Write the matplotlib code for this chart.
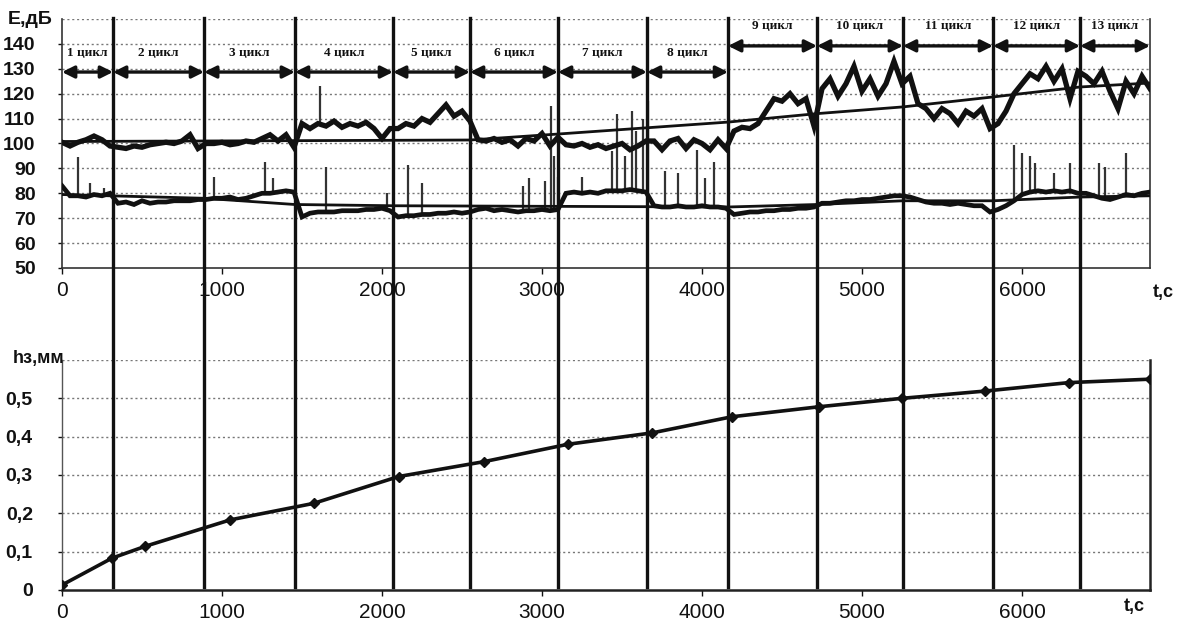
import numpy as np
import matplotlib
matplotlib.use("Agg")
import matplotlib.pyplot as plt
from matplotlib.lines import Line2D
from matplotlib import transforms

# ---------------- data ----------------
T_STEP = 50  # s, sampling of the acoustic traces (t = 0 ... 6800)

# upper acoustic emission trace, dB
e_upper = [
    100.5, 99, 100.5, 101.5, 103, 101.5, 99,
    98.5, 98, 99, 98.5, 99.5, 100, 100.5, 100, 101, 103.5, 98, 100,
    100, 100.5, 99.5, 100, 101, 100.5, 102, 103.5, 101, 103.5, 98.5,
    108, 106, 108, 107, 109, 106.5, 108, 107, 108.5, 106, 102, 106,
    106, 108, 107, 110, 108.5, 112, 115.5, 111, 113, 109,
    101.5, 101, 102, 100.5, 101.5, 99, 102, 101, 104, 99, 102.5,
    99.5, 99, 100, 98.5, 99.5, 98, 99, 100, 97.5, 99, 101,
    101, 97.5, 101, 102, 98, 101.5, 100, 97.5, 101.5, 98,
    105, 106.5, 106, 108, 113, 118, 117, 120, 116, 118, 107,
    122, 126, 119, 124, 131, 121, 126, 119, 124, 133, 124,
    127, 116, 114, 110, 114, 112, 108, 113, 111, 114, 106,
    108, 113, 120, 124, 128, 126, 131, 125, 130, 118, 129,
    127, 124, 129, 121, 114, 125, 120, 127, 122,
]

# lower acoustic emission trace, dB
e_lower = [
    83, 79, 79, 78.5, 79.5, 79, 80,
    76, 76.5, 75.5, 77, 76, 76.5, 76.5, 77, 77, 77, 77.5, 77.5,
    78, 78, 78.5, 77.5, 78, 79, 80, 80, 80.5, 81, 80.5,
    70.5, 72, 72.5, 72.5, 72.5, 73, 73, 73, 73.5, 73.5, 74, 73,
    70.5, 71, 71, 71.5, 71.5, 72, 72, 72.5, 72, 72.5,
    73.5, 74, 73, 73.5, 73, 72.5, 73, 73, 73.5, 73, 73.5,
    80, 80.5, 80, 80.5, 80, 81, 81, 81, 81.5, 81, 80.5,
    75, 74.5, 74.5, 75, 74.5, 74.5, 75, 74.5, 74.5, 74,
    71.5, 72, 72.5, 72.5, 73, 73, 73.5, 73.5, 74, 74, 74.5,
    76, 76, 76.5, 77, 77, 77.5, 77.5, 78, 78.5, 79, 79,
    78.5, 77.5, 76.5, 76, 76, 75.5, 76, 75.5, 75, 75, 72.5,
    73.5, 75, 77, 79.5, 80.5, 81, 80.5, 81, 80.5, 81, 80,
    80, 79, 78, 77.5, 78.5, 79.5, 79, 80, 80.5,
]

# isolated peaks on the lower trace: time, s / peak level, dB
spike_t = [100, 175, 260, 950, 1270, 1320, 1650, 2030, 2160, 2250, 2880, 2920,
           3020, 3055, 3075, 3100, 3250, 3440, 3470, 3520, 3560, 3590, 3630,
           3660, 3770, 3850, 3970, 4020, 4075, 5950, 6000, 6050, 6080, 6200,
           6300, 6480, 6520, 6650]
spike_v = [94.5, 84, 82, 86.5, 92.5, 86, 90.5, 80, 91.5, 84, 83, 86,
           85, 115, 95, 86.5, 86.5, 97, 112, 95, 113, 105, 110,
           117, 89, 88, 97.5, 86, 92.5, 99.5, 96, 95, 92, 88,
           92, 92, 90.5, 96]
# peak on the upper trace
spike_up_t = [1610]
spike_up_v = [123]

# trend lines, dB
trend_hi_t = [0, 2550, 3100, 4163, 4719, 5256, 5819, 6363, 6800]
trend_hi_v = [100.8, 101.4, 103.8, 108.6, 112, 114.7, 118.7, 122.7, 124.3]
trend_lo_t = [0, 888, 1456, 2069, 4163, 4719, 5256, 5819, 6363, 6800]
trend_lo_v = [79.5, 78, 75.5, 75, 74.5, 75.5, 77, 77, 78.5, 79]

# cycle boundaries, s
cycle_edges = [0, 319, 888, 1456, 2069, 2550, 3100, 3656, 4163, 4719, 5256,
               5819, 6363, 6800]
cycle_labels = [f"{i} цикл" for i in range(1, 14)]

# flank wear, mm
wear_t = [0, 312, 520, 1052, 1573, 2104, 2640, 3160, 3690, 4188, 4731, 5250,
          5770, 6292, 6800]
wear_h = [0.013, 0.083, 0.114, 0.183, 0.226, 0.296, 0.335, 0.38, 0.41, 0.452,
          0.478, 0.50, 0.519, 0.541, 0.55]

x_ticks = [0, 1000, 2000, 3000, 4000, 5000, 6000]
e_ticks = [50, 60, 70, 80, 90, 100, 110, 120, 130, 140]
h_ticks = [0, 0.1, 0.2, 0.3, 0.4, 0.5]
h_tick_labels = ["0", "0,1", "0,2", "0,3", "0,4", "0,5"]

# ---------------- figure ----------------
W, H = 1178, 640
fig = plt.figure(figsize=(W / 100, H / 100), dpi=100)
plt.rcParams['font.family'] = ['Liberation Sans', 'DejaVu Sans']

def fx(px):
    return px / W

def fy(py):
    return 1 - py / H

XL, XR = 62, 1150
ax1 = fig.add_axes([fx(XL), fy(268), fx(XR - XL), fy(19) - fy(268)])
ax2 = fig.add_axes([fx(XL), fy(590), fx(XR - XL), fy(360) - fy(590)])

t = np.arange(len(e_upper)) * T_STEP
INK = "#111111"

# --- top chart ---
ax1.set_xlim(0, 6800)
ax1.set_ylim(50, 150)
for v in list(e_ticks) + [150]:
    if v == 50:
        continue
    ax1.axhline(v, color="#777777", lw=1.0, ls=(0, (1.5, 2)), zorder=0)
ax1.plot(t, e_upper, color=INK, lw=3.8, solid_joinstyle="miter", zorder=3)
ax1.plot(t, e_lower, color=INK, lw=3.4, solid_joinstyle="miter", zorder=3)
base = np.interp(spike_t, t, e_lower)
ax1.vlines(spike_t, base, spike_v, color="#333333", lw=1.6, zorder=2)
base_up = np.interp(spike_up_t, t, e_upper)
ax1.vlines(spike_up_t, base_up, spike_up_v, color="#333333", lw=1.6, zorder=2)
ax1.plot(trend_hi_t, trend_hi_v, color=INK, lw=2.0, zorder=4)
ax1.plot(trend_lo_t, trend_lo_v, color=INK, lw=2.0, zorder=4)

# cycle arrows and labels
for i in range(13):
    a, b = cycle_edges[i], cycle_edges[i + 1]
    if i < 8:
        ya, yt = 128.7, 136.5
    else:
        ya, yt = 139.2, 147.3
    ax1.annotate("", xy=(a, ya), xytext=(b, ya),
                 arrowprops=dict(arrowstyle="<|-|>", color=INK, lw=2.4,
                                 mutation_scale=18, shrinkA=0, shrinkB=0),
                 zorder=5)
    ax1.text((a + b) / 2, yt, cycle_labels[i], ha="center", va="center",
             fontsize=9.5, fontweight="bold", family="Liberation Serif",
             color=INK, zorder=6)

ax1.set_xticks(x_ticks)
ax1.set_xticklabels([str(v) for v in x_ticks], fontsize=15)
ax1.set_yticks(e_ticks)
ax1.set_yticklabels([str(v) for v in e_ticks], fontsize=14, fontweight="bold")
ax1.tick_params(axis="x", length=4, width=1, pad=5, colors=INK)
ax1.tick_params(axis="y", length=3, width=1, pad=16, colors=INK)
for s in ["left", "right", "bottom"]:
    ax1.spines[s].set_color("#333333")
    ax1.spines[s].set_linewidth(1.2)
ax1.spines["top"].set_visible(False)
fig.text(fx(8), fy(20), "Е,дБ", fontsize=14, fontweight="bold", color=INK,
         ha="left", va="center")
fig.text(fx(1163), fy(292), "t,c", fontsize=13, fontweight="bold", color=INK,
         ha="center", va="center")

# --- bottom chart ---
ax2.set_xlim(0, 6800)
ax2.set_ylim(0, 0.6)
for v in [0.1, 0.2, 0.3, 0.4, 0.5, 0.6]:
    ax2.axhline(v, color="#777777", lw=1.0, ls=(0, (1.5, 2)), zorder=0)
ax2.plot(wear_t, wear_h, color=INK, lw=2.6, marker="D", markersize=5,
         zorder=3)
ax2.set_xticks(x_ticks)
ax2.set_xticklabels([str(v) for v in x_ticks], fontsize=15)
ax2.set_yticks(h_ticks)
ax2.set_yticklabels(h_tick_labels, fontsize=14, fontweight="bold")
ax2.tick_params(axis="x", length=4, width=1, pad=5, colors=INK)
ax2.tick_params(axis="y", length=3, width=1, pad=18, colors=INK)
ax2.spines["top"].set_visible(False)
ax2.spines["left"].set_color("#555555")
ax2.spines["left"].set_linewidth(1.0)
ax2.spines["bottom"].set_color("#222222")
ax2.spines["bottom"].set_linewidth(1.8)
ax2.spines["right"].set_color("#222222")
ax2.spines["right"].set_linewidth(1.8)
fig.text(fx(13), fy(358), "hз,мм", fontsize=13, fontweight="bold", color=INK,
         ha="left", va="center")
fig.text(fx(1134), fy(606), "t,c", fontsize=13, fontweight="bold", color=INK,
         ha="center", va="center")

# --- cycle boundary lines crossing both charts ---
tr = transforms.blended_transform_factory(ax1.transData, fig.transFigure)
for e in cycle_edges[1:-1]:
    fig.add_artist(Line2D([e, e], [fy(18), fy(587)], transform=tr,
                          color=INK, lw=2.4, zorder=10))

fig.savefig("out.png", dpi=100)
